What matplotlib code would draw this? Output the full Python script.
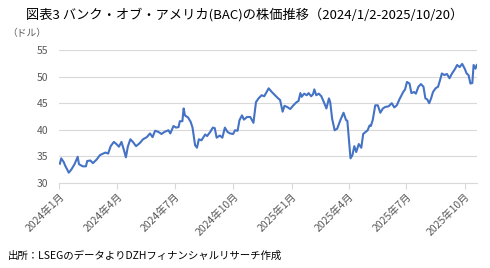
import pandas as pd
import matplotlib
matplotlib.use("Agg")
import matplotlib.pyplot as plt

plt.rcParams['font.family'] = ['Noto Sans CJK JP', 'DejaVu Sans']

# BAC終値（チャートから読み取り）
dates = [
    "2024-01-02", "2024-01-04", "2024-01-08", "2024-01-10", "2024-01-16", "2024-01-20",
    "2024-01-25", "2024-01-30", "2024-02-01", "2024-02-07", "2024-02-12", "2024-02-14",
    "2024-02-19", "2024-02-23", "2024-02-29", "2024-03-05", "2024-03-10", "2024-03-14",
    "2024-03-18", "2024-03-22", "2024-03-27", "2024-03-31", "2024-04-04", "2024-04-08",
    "2024-04-12", "2024-04-15", "2024-04-18", "2024-04-22", "2024-04-26", "2024-05-01",
    "2024-05-07", "2024-05-12", "2024-05-18", "2024-05-23", "2024-05-27", "2024-05-31",
    "2024-06-05", "2024-06-10", "2024-06-15", "2024-06-21", "2024-06-24", "2024-06-29",
    "2024-07-03", "2024-07-07", "2024-07-09", "2024-07-13", "2024-07-15", "2024-07-17",
    "2024-07-22", "2024-07-26", "2024-07-29", "2024-08-02", "2024-08-05", "2024-08-08",
    "2024-08-12", "2024-08-18", "2024-08-21", "2024-08-26", "2024-08-30", "2024-09-02",
    "2024-09-05", "2024-09-10", "2024-09-14", "2024-09-18", "2024-09-22", "2024-09-26",
    "2024-10-01", "2024-10-04", "2024-10-08", "2024-10-11", "2024-10-15", "2024-10-18",
    "2024-10-23", "2024-10-28", "2024-11-02", "2024-11-06", "2024-11-10", "2024-11-15",
    "2024-11-19", "2024-11-26", "2024-12-01", "2024-12-06", "2024-12-11", "2024-12-14",
    "2024-12-18", "2024-12-21", "2024-12-25", "2024-12-30", "2025-01-04", "2025-01-09",
    "2025-01-12", "2025-01-15", "2025-01-17", "2025-01-21", "2025-01-25", "2025-01-28",
    "2025-02-01", "2025-02-04", "2025-02-06", "2025-02-09", "2025-02-13", "2025-02-17",
    "2025-02-21", "2025-02-25", "2025-03-01", "2025-03-03", "2025-03-06", "2025-03-10",
    "2025-03-14", "2025-03-19", "2025-03-24", "2025-03-28", "2025-03-30", "2025-04-04",
    "2025-04-07", "2025-04-10", "2025-04-13", "2025-04-17", "2025-04-21", "2025-04-24",
    "2025-04-28", "2025-05-01", "2025-05-04", "2025-05-06", "2025-05-09", "2025-05-13",
    "2025-05-17", "2025-05-21", "2025-05-25", "2025-05-29", "2025-06-03", "2025-06-08",
    "2025-06-12", "2025-06-16", "2025-06-20", "2025-06-26", "2025-06-29", "2025-07-02",
    "2025-07-06", "2025-07-09", "2025-07-13", "2025-07-16", "2025-07-20", "2025-07-24",
    "2025-07-28", "2025-07-31", "2025-08-03", "2025-08-06", "2025-08-09", "2025-08-12",
    "2025-08-16", "2025-08-20", "2025-08-23", "2025-08-26", "2025-08-30", "2025-09-03",
    "2025-09-07", "2025-09-11", "2025-09-16", "2025-09-19", "2025-09-23", "2025-09-27",
    "2025-10-01", "2025-10-04", "2025-10-07", "2025-10-10", "2025-10-13", "2025-10-15",
    "2025-10-18", "2025-10-20",
]
prices = [
    33.6, 34.6, 33.9, 33.3, 31.9, 32.5,
    33.5, 34.9, 33.5, 33.1, 33.1, 34.1,
    34.2, 33.7, 34.4, 35.2, 35.5, 35.7,
    35.5, 36.9, 37.7, 37.3, 36.8, 37.7,
    36.1, 34.8, 36.8, 38.2, 37.7, 36.9,
    37.5, 38.2, 38.6, 39.3, 38.6, 39.8,
    39.6, 39.2, 39.6, 39.9, 39.3, 40.7,
    40.4, 40.5, 41.6, 41.6, 44.0, 42.7,
    42.3, 41.5, 40.4, 37.1, 36.6, 38.2,
    38.0, 39.1, 38.8, 39.6, 40.4, 40.3,
    38.5, 38.9, 38.5, 40.4, 39.6, 39.3,
    39.2, 39.9, 39.8, 41.8, 42.7, 41.9,
    42.4, 42.4, 41.3, 45.2, 45.9, 46.5,
    46.3, 47.8, 47.1, 46.5, 45.9, 45.6,
    43.4, 44.5, 44.3, 43.9, 44.6, 45.2,
    45.4, 46.9, 46.2, 46.8, 46.5, 46.9,
    46.3, 46.7, 47.6, 46.5, 46.8, 46.3,
    45.2, 44.0, 45.9, 45.2, 42.1, 39.9,
    40.2, 41.8, 43.2, 41.8, 41.7, 34.6,
    35.2, 36.9, 35.8, 37.3, 36.6, 39.2,
    39.6, 39.9, 40.8, 40.7, 41.8, 44.6,
    44.6, 43.2, 44.0, 44.3, 44.4, 45.0,
    44.2, 44.6, 45.7, 47.1, 47.6, 49.0,
    48.7, 46.9, 47.1, 46.8, 48.1, 48.6,
    48.1, 45.9, 45.7, 45.0, 45.9, 47.1,
    47.8, 48.1, 49.3, 50.6, 50.3, 50.5,
    49.7, 50.6, 51.5, 52.2, 51.8, 52.4,
    51.5, 50.6, 50.3, 48.7, 48.8, 52.2,
    51.5, 52.2,
]

tick_dates = ["2024-01-01", "2024-04-01", "2024-07-01", "2024-10-01",
              "2025-01-01", "2025-04-01", "2025-07-01", "2025-10-01"]
tick_labels = ["2024年1月", "2024年4月", "2024年7月", "2024年10月",
               "2025年1月", "2025年4月", "2025年7月", "2025年10月"]

x = pd.to_datetime(dates)
ticks = pd.to_datetime(tick_dates)

fig = plt.figure(figsize=(4.9, 2.68), dpi=100)
ax = fig.add_axes([0.121, 0.318, 0.852, 0.495])

ax.plot(x, prices, color='#4472C4', linewidth=1.5)

ax.set_ylim(30, 55)
ax.set_yticks([30, 35, 40, 45, 50, 55])
ax.set_xlim(pd.Timestamp("2024-01-01"), pd.Timestamp("2025-10-20"))
ax.set_xticks(ticks)
ax.set_xticklabels(tick_labels, rotation=45, ha='right', rotation_mode='anchor')

ax.grid(axis='y', color='#d9d9d9', linewidth=0.8)
ax.set_axisbelow(True)
for side in ['left', 'right', 'top']:
    ax.spines[side].set_visible(False)
ax.spines['bottom'].set_color('#d9d9d9')
ax.tick_params(axis='y', length=0, labelsize=7.5, labelcolor='#595959', pad=8)
ax.tick_params(axis='x', length=4, color='#d9d9d9', labelsize=7.5, labelcolor='#595959', pad=2)

fig.text(0.5, 0.945, "図表3 バンク・オブ・アメリカ(BAC)の株価推移（2024/1/2-2025/10/20）",
         ha='center', va='center', fontsize=9.5)
fig.text(0.015, 0.875, "（ドル）", ha='left', va='center', fontsize=7, color='#595959')
fig.text(0.015, 0.045, "出所：LSEGのデータよりDZHフィナンシャルリサーチ作成",
         ha='left', va='center', fontsize=7.5)

fig.savefig("out.png", dpi=100)
